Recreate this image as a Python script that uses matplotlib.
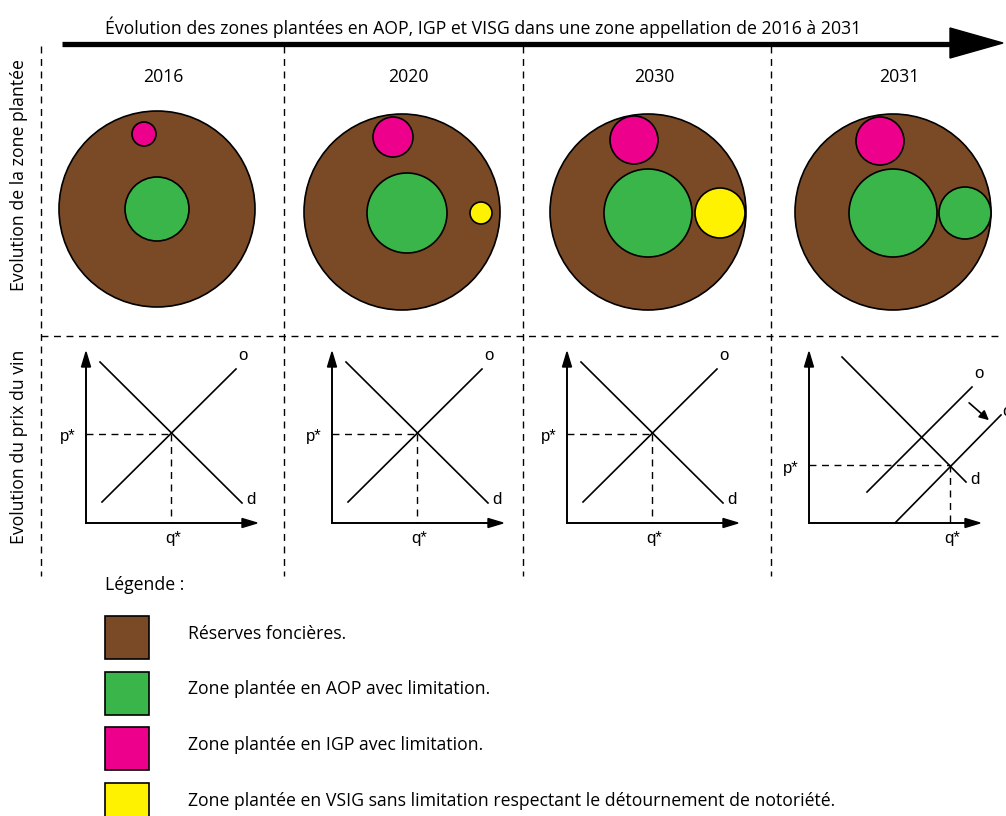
import matplotlib
matplotlib.use("Agg")
import matplotlib.pyplot as plt
from matplotlib.patches import Circle, Polygon, Rectangle

# --- data -------------------------------------------------------------
title = "Évolution des zones plantées en AOP, IGP et VISG dans une zone appellation de 2016 à 2031"
years = ["2016", "2020", "2030", "2031"]
row_labels = ["Evolution de la zone plantée", "Evolution du prix du vin"]

# circle radii (px) per year
reserve_r = [98, 98, 98, 98]
aop_r = [32, 40, 44, 44]
igp_r = [12, 20, 24, 24]
vsig_r = [0, 11, 25, 0]
aop2_r = [0, 0, 0, 26]          # second AOP zone in 2031

legend_title = "Légende :"
legend_labels = [
    "Réserves foncières.",
    "Zone plantée en AOP avec limitation.",
    "Zone plantée en IGP avec limitation.",
    "Zone plantée en VSIG sans limitation respectant le détournement de notoriété.",
]

# --- style / layout ---------------------------------------------------
BROWN = "#7a4a26"
GREEN = "#39b54a"
PINK = "#ec008c"
YELLOW = "#fff200"
legend_colors = [BROWN, GREEN, PINK, YELLOW]

FONT = ["Open Sans", "DejaVu Sans"]
SANS = ["Liberation Sans", "DejaVu Sans"]
FS = 12.7

panel_cx = [157, 402, 648, 893]
circle_cy = [209, 212, 212, 212]
igp_off = [(-13, -75), (-9, -75), (-14, -72), (-13, -71)]
aop_off = [(0, 0), (5, 1), (0, 1), (0, 1)]
side_off = [(0, 0), (79, 1), (72, 1), (72, 1)]
origins = [(86, 523), (332, 523), (567, 523), (809, 523)]

fig = plt.figure(figsize=(10.06, 8.16), dpi=100)
ax = fig.add_axes([0, 0, 1, 1])
ax.set_xlim(0, 1006)
ax.set_ylim(816, 0)
ax.axis("off")

# title arrow
ax.plot([62, 955], [44, 44], color="black", lw=3.8, solid_capstyle="butt")
ax.add_patch(Polygon([[950, 28], [1003, 43], [950, 58]], closed=True, color="black"))
ax.text(483, 27, title, ha="center", va="center", fontsize=FS, family=FONT)

# separators
dash = (0, (5, 4))
for x in [41, 284, 523, 771]:
    ax.plot([x, x], [46, 576], color="black", lw=1.0, linestyle=dash)
ax.plot([41, 1000], [336, 336], color="black", lw=1.0, linestyle=dash)

ax.text(19, 175, row_labels[0], rotation=90, ha="center", va="center", fontsize=FS, family=FONT)
ax.text(19, 447, row_labels[1], rotation=90, ha="center", va="center", fontsize=FS, family=FONT)

# circles
for i, yr in enumerate(years):
    cx, cy = panel_cx[i], circle_cy[i]
    ax.text(cx + 6, 77, yr, ha="center", va="center", fontsize=FS, family=FONT)
    ax.add_patch(Circle((cx, cy), reserve_r[i], fc=BROWN, ec="black", lw=1.2))
    ax.add_patch(Circle((cx + igp_off[i][0], cy + igp_off[i][1]), igp_r[i], fc=PINK, ec="black", lw=1.2))
    ax.add_patch(Circle((cx + aop_off[i][0], cy + aop_off[i][1]), aop_r[i], fc=GREEN, ec="black", lw=1.2))
    if vsig_r[i]:
        ax.add_patch(Circle((cx + side_off[i][0], cy + side_off[i][1]), vsig_r[i], fc=YELLOW, ec="black", lw=1.2))
    if aop2_r[i]:
        ax.add_patch(Circle((cx + side_off[i][0], cy + side_off[i][1]), aop2_r[i], fc=GREEN, ec="black", lw=1.2))


def head(tip, direction):
    x, y = tip
    if direction == "up":
        pts = [[x, y], [x - 4.5, y + 15], [x + 4.5, y + 15]]
    else:
        pts = [[x, y], [x - 15, y - 4.5], [x - 15, y + 4.5]]
    ax.add_patch(Polygon(pts, closed=True, color="black"))


def market(ox, oy, demand, supplies, eq):
    ax.plot([ox, ox], [oy, oy - 160], color="black", lw=1.4)
    ax.plot([ox, ox + 160], [oy, oy], color="black", lw=1.4)
    head((ox, oy - 171), "up")
    head((ox + 171, oy), "right")
    ax.plot([ox + demand[0][0], ox + demand[1][0]], [oy + demand[0][1], oy + demand[1][1]], color="black", lw=1.2)
    for s in supplies:
        ax.plot([ox + s[0][0], ox + s[1][0]], [oy + s[0][1], oy + s[1][1]], color="black", lw=1.2)
    ex, ey = ox + eq[0], oy + eq[1]
    ax.plot([ox, ex], [ey, ey], color="black", lw=1.0, linestyle=dash)
    ax.plot([ex, ex], [ey, oy], color="black", lw=1.0, linestyle=dash)
    ax.text(ox - 18, ey + 3, "p*", ha="center", va="center", fontsize=12, family=SANS)
    ax.text(ex + 2, oy + 16, "q*", ha="center", va="center", fontsize=12, family=SANS)
    ax.text(ox + demand[1][0] + 9, oy + demand[1][1] - 3, "d", ha="center", va="center", fontsize=12, family=SANS)
    top = supplies[0][1]
    ax.text(ox + top[0] + 7, oy + top[1] - 13, "o", ha="center", va="center", fontsize=12, family=SANS)


std_demand = ((14, -161), (156, -20))
std_supply = ((16, -21), (150, -154))
for k in range(3):
    market(*origins[k], std_demand, [std_supply], (85, -89))

ox, oy = origins[3]
market(ox, oy, ((33, -166), (157, -41)), [((58, -31), (163, -136)), ((86, 0), (192, -108))], (141, -58))
ax.text(ox + 193, oy - 112, "o", ha="left", va="center", fontsize=12, family=SANS)
ax.annotate("", xy=(ox + 182, oy - 101), xytext=(ox + 158, oy - 122),
            arrowprops=dict(arrowstyle="-|>", color="black", lw=1.2, mutation_scale=14))

# legend
ax.text(105, 585, legend_title, ha="left", va="center", fontsize=FS, family=FONT)
for j, (lab, col) in enumerate(zip(legend_labels, legend_colors)):
    y0 = 616 + j * 55.5
    ax.add_patch(Rectangle((105, y0), 44, 43, fc=col, ec="black", lw=1.2))
    ax.text(188, y0 + 18, lab, ha="left", va="center", fontsize=FS, family=FONT)

fig.savefig("out.png", dpi=100)
